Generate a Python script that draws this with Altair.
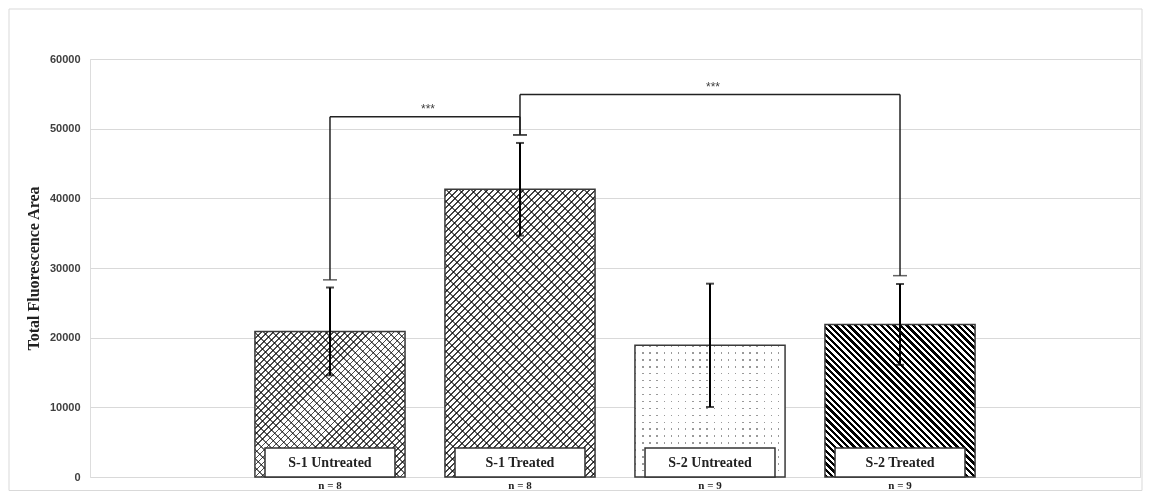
import altair as alt
import pandas as pd

# ---------------- data ----------------
categories = ["S-1 Untreated", "S-1 Treated", "S-2 Untreated", "S-2 Treated"]
n_labels = ["n = 8", "n = 8", "n = 9", "n = 9"]
means = [20900, 41300, 18900, 21900]
errors = [6300, 6650, 8850, 5800]

bracket_from = [0, 1]
bracket_to = [1, 3]
bracket_top = [51700, 54900]
bracket_left_end = [28300, 49100]
bracket_right_end = [49100, 28900]
bracket_text = ["***", "***"]

y_ticks = [0, 10000, 20000, 30000, 40000, 50000, 60000]

# ---------------- layout constants ----------------
W_PLOT, H_PLOT = 1050, 418
Y_MAX = 60000
X_DOMAIN = [-1.263, 4.263]
BAR_HALF = 0.395
BOX_HALF = 0.342
PX_PER_X = W_PLOT / (X_DOMAIN[1] - X_DOMAIN[0])

df = pd.DataFrame({"idx": list(range(len(categories))), "cat": categories,
                   "n": n_labels, "mean": means, "err": errors})
br = pd.DataFrame({"x_from": bracket_from, "x_to": bracket_to, "top": bracket_top,
                   "lend": bracket_left_end, "rend": bracket_right_end,
                   "txt": bracket_text})

xs = alt.Scale(domain=X_DOMAIN, nice=False, zero=False)
ys = alt.Scale(domain=[0, Y_MAX], nice=False)


def stripe_grad(w, h, period, frac, kind, dark, light="#ffffff"):
    if kind == "/":
        k = (w + h) / (w * w + h * h)
        x1, y1, x2, y2 = 0, 0, k * w, k * h
        span = w + h
    elif kind == "\\":
        k = (w + h) / (w * w + h * h)
        x1, y1, x2, y2 = 0, 1, k * w, 1 - k * h
        span = w + h
    elif kind == "|":
        x1, y1, x2, y2 = 0, 0, 1, 0
        span = w
    else:
        x1, y1, x2, y2 = 0, 0, 0, 1
        span = h
    n = max(1, round(span / period))
    stops = []
    for i in range(n):
        a = round(i / n, 6)
        b = round((i + frac) / n, 6)
        c = round((i + 1) / n, 6)
        stops += [{"offset": a, "color": dark}, {"offset": b, "color": dark},
                  {"offset": b, "color": light}, {"offset": c, "color": light}]
    return {"gradient": "linear", "x1": x1, "y1": y1, "x2": x2, "y2": y2,
            "stops": stops}


bar_w = 2 * BAR_HALF * PX_PER_X


def bar_h(i):
    return means[i] / Y_MAX * H_PLOT


patterns = {
    0: [("/", 6.0, 0.28, "#4a4a4a", None), ("\\", 9.0, 0.22, "#6a6a6a", "multiply")],
    1: [("/", 6.0, 0.36, "#404040", None), ("\\", 12.5, 0.16, "#6a6a6a", "multiply")],
    2: [("|", 7.0, 0.2, "#9a9a9a", None), ("-", 7.0, 0.2, "#9a9a9a", "lighten")],
    3: [("\\", 6.5, 0.5, "#000000", None)],
}

base = alt.Chart(df).transform_calculate(
    x0=f"datum.idx - {BAR_HALF}", x1=f"datum.idx + {BAR_HALF}",
    bx0=f"datum.idx - {BOX_HALF}", bx1=f"datum.idx + {BOX_HALF}",
    zero="0", lo="datum.mean - datum.err", hi="datum.mean + datum.err",
)

X0 = alt.X("x0:Q", scale=xs, axis=None)
X1 = alt.X2("x1:Q")

layers = []

# frame
frame = alt.Chart(pd.DataFrame({"a": [0]})).mark_rect(
    fillOpacity=0, stroke="#d9d9d9", strokeWidth=1
).encode(x=alt.value(-81), x2=alt.value(W_PLOT + 2),
         y=alt.value(-50), y2=alt.value(H_PLOT + 13.5))
layers.append(frame)

# axis / grid layer
axis_layer = base.mark_rect(opacity=0).encode(
    x=X0, x2=X1,
    y=alt.Y("mean:Q", scale=ys,
            axis=alt.Axis(values=y_ticks, format="d", grid=True, gridColor="#d9d9d9",
                          gridWidth=1, domain=False, ticks=False,
                          labelFont="Liberation Sans", labelFontWeight="bold",
                          labelFontSize=11, labelColor="#404040",
                          labelPadding=10,
                          title="Total Fluorescence Area",
                          titleFont="Liberation Serif", titleFontWeight="bold",
                          titleFontSize=16, titleColor="#222222",
                          titleX=-57, titleY=H_PLOT / 2, titleAngle=-90,
                          titleAlign="center", titleBaseline="middle")),
    y2="zero:Q",
)
layers.append(axis_layer)

# patterned bars
for i, pats in patterns.items():
    for kind, period, frac, dark, blend in pats:
        g = stripe_grad(bar_w, bar_h(i), period, frac, kind, dark)
        kw = {"fill": g}
        if blend:
            kw["blend"] = blend
        layer = base.transform_filter(alt.datum.idx == i).mark_rect(**kw).encode(
            x=X0, x2=X1, y=alt.Y("mean:Q", scale=ys), y2="zero:Q")
        layers.append(layer)

# bar outlines
outline = base.mark_rect(fillOpacity=0, stroke="#3a3a3a", strokeWidth=1.5).encode(
    x=X0, x2=X1, y=alt.Y("mean:Q", scale=ys), y2="zero:Q")
layers.append(outline)

# label boxes
boxes = base.mark_rect(fill="white", stroke="#333333", strokeWidth=1.5).encode(
    x=alt.X("bx0:Q", scale=xs, axis=None), x2="bx1:Q",
    y=alt.value(H_PLOT - 29), y2=alt.value(H_PLOT))
layers.append(boxes)

box_text = base.mark_text(font="Liberation Serif", fontWeight="bold", fontSize=14,
                          baseline="middle", color="#222222").encode(
    x=alt.X("idx:Q", scale=xs, axis=None), y=alt.value(H_PLOT - 14), text="cat:N")
layers.append(box_text)

n_text = base.mark_text(font="Liberation Serif", fontWeight="bold", fontSize=11,
                        baseline="middle", color="#222222").encode(
    x=alt.X("idx:Q", scale=xs, axis=None), y=alt.value(H_PLOT + 9), text="n:N")
layers.append(n_text)

# error bars
err_rule = base.mark_rule(color="#000000", strokeWidth=2).encode(
    x=alt.X("idx:Q", scale=xs, axis=None), y=alt.Y("lo:Q", scale=ys), y2="hi:Q")
err_cap_hi = base.mark_tick(orient="horizontal", size=8, thickness=2,
                            color="#000000").encode(
    x=alt.X("idx:Q", scale=xs, axis=None), y=alt.Y("hi:Q", scale=ys))
err_cap_lo = base.mark_tick(orient="horizontal", size=8, thickness=2,
                            color="#000000").encode(
    x=alt.X("idx:Q", scale=xs, axis=None), y=alt.Y("lo:Q", scale=ys))
layers += [err_rule, err_cap_hi, err_cap_lo]

# significance brackets
bb = alt.Chart(br).transform_calculate(mid="(datum.x_from + datum.x_to) / 2")
line_kw = dict(color="#222222", strokeWidth=1.5)
h_line = bb.mark_rule(**line_kw).encode(
    x=alt.X("x_from:Q", scale=xs, axis=None), x2="x_to:Q",
    y=alt.Y("top:Q", scale=ys))
v_left = bb.mark_rule(**line_kw).encode(
    x=alt.X("x_from:Q", scale=xs, axis=None),
    y=alt.Y("lend:Q", scale=ys), y2="top:Q")
v_right = bb.mark_rule(**line_kw).encode(
    x=alt.X("x_to:Q", scale=xs, axis=None),
    y=alt.Y("rend:Q", scale=ys), y2="top:Q")
cap_left = bb.mark_tick(orient="horizontal", size=14, thickness=1.5,
                        color="#222222").encode(
    x=alt.X("x_from:Q", scale=xs, axis=None), y=alt.Y("lend:Q", scale=ys))
cap_right = bb.mark_tick(orient="horizontal", size=14, thickness=1.5,
                         color="#222222").encode(
    x=alt.X("x_to:Q", scale=xs, axis=None), y=alt.Y("rend:Q", scale=ys))
stars = bb.mark_text(font="Liberation Sans", fontSize=12, color="#404040",
                     baseline="middle", dy=-8, dx=3).encode(
    x=alt.X("mid:Q", scale=xs, axis=None), y=alt.Y("top:Q", scale=ys), text="txt:N")
layers += [h_line, v_left, v_right, cap_left, cap_right, stars]

chart = alt.layer(*layers).properties(
    width=W_PLOT, height=H_PLOT,
    autosize=alt.AutoSizeParams(type="none"),
    padding={"left": 82, "top": 51, "right": 3, "bottom": 14},
).configure_view(stroke=None).configure(background="white")

chart.save("out.html", embed_options={"renderer": "svg", "actions": False})
